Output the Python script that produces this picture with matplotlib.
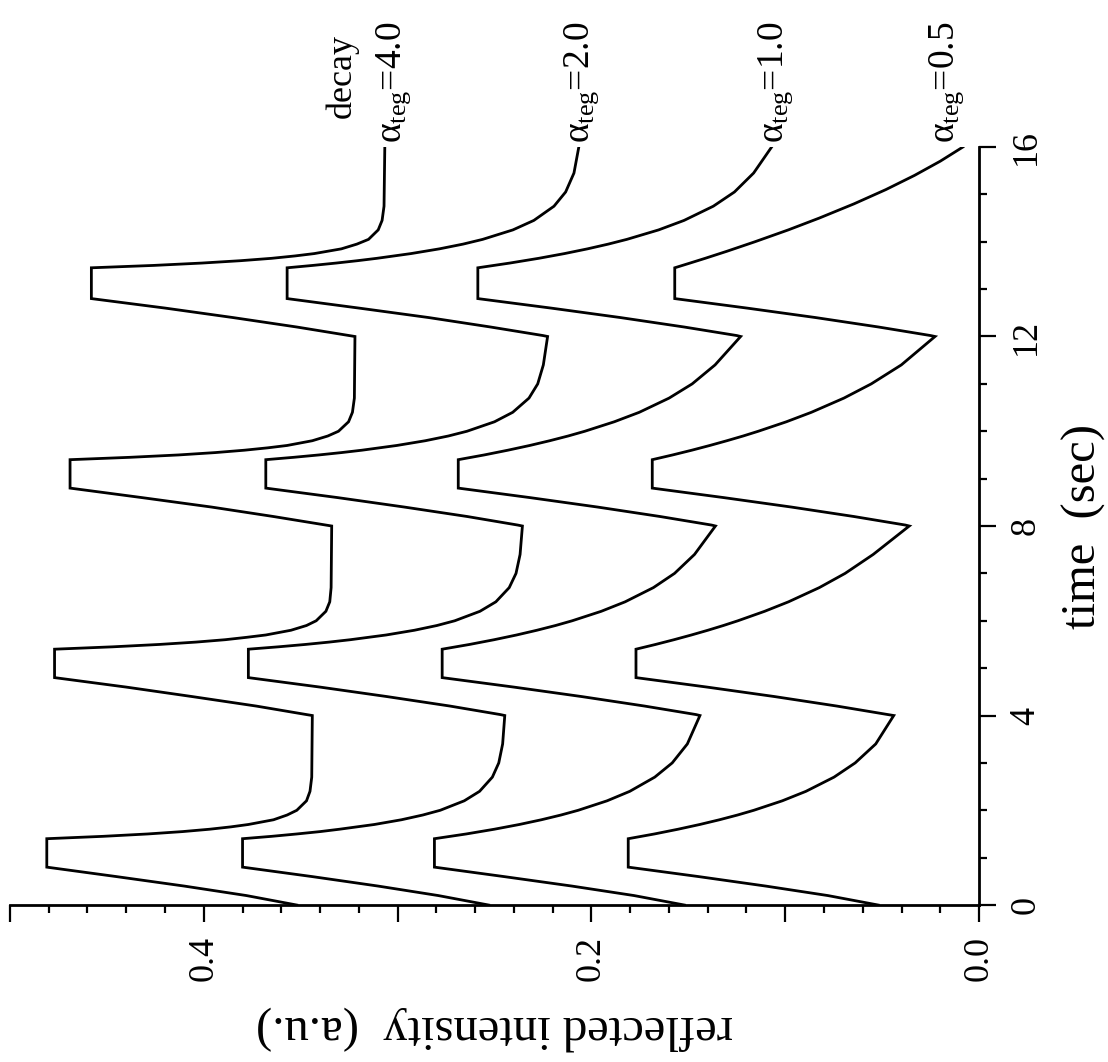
import matplotlib
matplotlib.use('Agg')
import matplotlib.pyplot as plt
from matplotlib.ticker import MultipleLocator

plt.rcParams['font.family'] = 'Liberation Serif'
plt.rcParams['mathtext.fontset'] = 'custom'
plt.rcParams['mathtext.rm'] = 'Liberation Serif'
plt.rcParams['mathtext.it'] = 'Liberation Serif:italic'

# time (sec) and reflected intensity (a.u.)
t_a40 = [0.00, 0.20, 0.40, 0.60, 0.80, 1.40, 1.45, 1.50, 1.55, 1.60, 1.65, 1.70, 1.80, 1.90, 2.00, 2.20, 2.40, 2.70, 4.00,
         4.02, 4.20, 4.40, 4.60, 4.80, 5.40, 5.45, 5.50, 5.55, 5.60, 5.65, 5.70, 5.80, 5.90, 6.00, 6.20, 6.40, 6.70, 8.00,
         8.02, 8.20, 8.40, 8.60, 8.80, 9.40, 9.45, 9.50, 9.55, 9.60, 9.65, 9.70, 9.80, 9.90, 10.00, 10.20, 10.40, 10.70, 12.00,
         12.02, 12.20, 12.40, 12.60, 12.80, 13.45, 13.50, 13.55, 13.60, 13.65, 13.70, 13.75, 13.85, 13.95, 14.05, 14.25, 14.45, 14.75, 16.00]
i_a40 = [0.352, 0.378, 0.410, 0.445, 0.481, 0.481, 0.452, 0.429, 0.411, 0.397, 0.386, 0.377, 0.364, 0.357, 0.352, 0.347, 0.3452, 0.3443, 0.344,
         0.347, 0.373, 0.406, 0.440, 0.477, 0.477, 0.447, 0.423, 0.404, 0.389, 0.378, 0.368, 0.355, 0.347, 0.342, 0.337, 0.335, 0.3343, 0.334,
         0.337, 0.364, 0.396, 0.432, 0.469, 0.469, 0.438, 0.413, 0.394, 0.379, 0.367, 0.357, 0.344, 0.336, 0.3305, 0.3253, 0.3233, 0.3223, 0.322,
         0.325, 0.352, 0.385, 0.420, 0.458, 0.458, 0.426, 0.401, 0.381, 0.365, 0.353, 0.343, 0.329, 0.321, 0.315, 0.310, 0.308, 0.307, 0.3066]

t_a20 = [0.00, 0.20, 0.40, 0.60, 0.80, 1.40, 1.45, 1.50, 1.55, 1.60, 1.70, 1.80, 1.90, 2.00, 2.20, 2.40, 2.70, 3.00, 3.40, 4.00,
         4.02, 4.20, 4.40, 4.60, 4.80, 5.40, 5.45, 5.50, 5.55, 5.60, 5.70, 5.80, 5.90, 6.00, 6.20, 6.40, 6.70, 7.00, 7.40, 8.00,
         8.02, 8.20, 8.40, 8.60, 8.80, 9.40, 9.45, 9.50, 9.55, 9.60, 9.70, 9.80, 9.90, 10.00, 10.20, 10.40, 10.70, 11.00, 11.40, 12.00,
         12.02, 12.20, 12.40, 12.60, 12.80, 13.45, 13.50, 13.55, 13.60, 13.65, 13.75, 13.85, 13.95, 14.05, 14.25, 14.45, 14.75, 15.05, 15.45, 16.00]
i_a20 = [0.253, 0.279, 0.310, 0.344, 0.380, 0.380, 0.365, 0.352, 0.340, 0.330, 0.312, 0.298, 0.287, 0.278, 0.2656, 0.2577, 0.2511, 0.2478, 0.2458, 0.2447,
         0.247, 0.273, 0.3055, 0.340, 0.377, 0.377, 0.3615, 0.3476, 0.3353, 0.3244, 0.3059, 0.2913, 0.2797, 0.2705, 0.2575, 0.2493, 0.2424, 0.2389, 0.2368, 0.2356,
         0.238, 0.264, 0.2965, 0.331, 0.368, 0.368, 0.3536, 0.3406, 0.3289, 0.3184, 0.3004, 0.2857, 0.2738, 0.2642, 0.2500, 0.2406, 0.2322, 0.2277, 0.2248, 0.2226,
         0.225, 0.252, 0.284, 0.320, 0.357, 0.357, 0.3438, 0.3317, 0.3207, 0.3107, 0.2931, 0.2784, 0.2662, 0.2561, 0.2405, 0.2297, 0.2193, 0.2133, 0.2090, 0.2065]

t_a10 = [0.00, 0.20, 0.40, 0.60, 0.80, 1.40, 1.50, 1.60, 1.70, 1.80, 1.90, 2.00, 2.20, 2.40, 2.70, 3.00, 3.40, 4.00,
         4.02, 4.20, 4.40, 4.60, 4.80, 5.40, 5.50, 5.60, 5.70, 5.80, 5.90, 6.00, 6.20, 6.40, 6.70, 7.00, 7.40, 8.00,
         8.02, 8.20, 8.40, 8.60, 8.80, 9.40, 9.50, 9.60, 9.70, 9.80, 9.90, 10.00, 10.20, 10.40, 10.70, 11.00, 11.40, 12.00,
         12.02, 12.20, 12.40, 12.60, 12.80, 13.45, 13.55, 13.65, 13.75, 13.85, 13.95, 14.05, 14.25, 14.45, 14.75, 15.05, 15.45, 16.00]
i_a10 = [0.152, 0.178, 0.210, 0.245, 0.281, 0.281, 0.2646, 0.2501, 0.2372, 0.2258, 0.2157, 0.2068, 0.1919, 0.1802, 0.1673, 0.1583, 0.1505, 0.1440,
         0.146, 0.1726, 0.205, 0.240, 0.277, 0.277, 0.2629, 0.2502, 0.2386, 0.2281, 0.2185, 0.2099, 0.1949, 0.1826, 0.1680, 0.1571, 0.1468, 0.136,
         0.138, 0.1645, 0.1968, 0.2318, 0.2687, 0.2687, 0.2553, 0.2431, 0.2318, 0.2215, 0.2120, 0.2034, 0.1882, 0.1753, 0.1599, 0.1480, 0.1362, 0.123,
         0.125, 0.1521, 0.1851, 0.2209, 0.2586, 0.2586, 0.2421, 0.2272, 0.2139, 0.2020, 0.1913, 0.1817, 0.1653, 0.1522, 0.1371, 0.1262, 0.1163, 0.107]

t_a05 = [0.00, 0.20, 0.40, 0.60, 0.80, 1.40, 1.50, 1.60, 1.70, 1.80, 1.90, 2.00, 2.20, 2.40, 2.70, 3.00, 3.40, 4.00,
         4.02, 4.20, 4.40, 4.60, 4.80, 5.40, 5.50, 5.60, 5.70, 5.80, 5.90, 6.00, 6.20, 6.40, 6.70, 7.00, 7.40, 8.00,
         8.02, 8.20, 8.40, 8.60, 8.80, 9.40, 9.50, 9.60, 9.70, 9.80, 9.90, 10.00, 10.20, 10.40, 10.70, 11.00, 11.40, 12.00,
         12.02, 12.20, 12.40, 12.60, 12.80, 13.45, 13.55, 13.65, 13.80, 14.00, 14.25, 14.50, 14.80, 15.10, 15.40, 15.70, 16.00]
i_a05 = [0.052, 0.078, 0.110, 0.1446, 0.181, 0.181, 0.1675, 0.1553, 0.1441, 0.1339, 0.1246, 0.1162, 0.1015, 0.0893, 0.0748, 0.0639, 0.0533, 0.0440,
         0.047, 0.0734, 0.1055, 0.1403, 0.177, 0.177, 0.1669, 0.1574, 0.1484, 0.1399, 0.1319, 0.1244, 0.1106, 0.0983, 0.0824, 0.0691, 0.0546, 0.036,
         0.038, 0.0645, 0.0968, 0.1318, 0.1686, 0.1686, 0.1581, 0.1482, 0.1389, 0.1301, 0.1217, 0.1139, 0.0994, 0.0865, 0.0697, 0.0556, 0.0401, 0.0227,
         0.025, 0.0518, 0.0844, 0.1198, 0.157, 0.157, 0.1491, 0.1413, 0.130, 0.1156, 0.0984, 0.0824, 0.0645, 0.0481, 0.0333, 0.020, 0.0083]

curve_labels = [r'$\mathrm{\alpha_{teg}}$=4.0', r'$\mathrm{\alpha_{teg}}$=2.0',
                r'$\mathrm{\alpha_{teg}}$=1.0', r'$\mathrm{\alpha_{teg}}$=0.5']
label_at = [0.302, 0.205, 0.105, 0.0165]

fig = plt.figure(figsize=(11.08, 10.62), dpi=100)
# the figure is drawn turned on its side: time runs up, intensity runs to the left
ax = fig.add_axes([0.009, 0.1478, 0.8746, 0.7138])

for t, inten in [(t_a40, i_a40), (t_a20, i_a20), (t_a10, i_a10), (t_a05, i_a05)]:
    ax.plot(inten, t, color='black', lw=2.0, solid_joinstyle='miter')

ax.set_xlim(0.5, 0.0)
ax.set_ylim(0, 16)
ax.spines['left'].set_visible(False)
ax.spines['top'].set_visible(False)
ax.spines['bottom'].set_linewidth(2.0)
ax.spines['right'].set_linewidth(2.0)
ax.yaxis.tick_right()
ax.yaxis.set_label_position('right')

ax.set_xticks([0.0, 0.1, 0.2, 0.3, 0.4, 0.5], ['0.0', '', '0.2', '', '0.4', ''])
ax.xaxis.set_minor_locator(MultipleLocator(0.02))
ax.set_yticks([0, 4, 8, 12, 16])
ax.yaxis.set_minor_locator(MultipleLocator(1))

ax.tick_params(which='both', direction='out', width=1.6)
ax.tick_params(which='major', length=12)
ax.tick_params(which='minor', length=6)
ax.tick_params(axis='x', labelsize=26, labelrotation=90, pad=10)
ax.tick_params(axis='y', labelsize=26, labelrotation=90, pad=10)
for lab in ax.get_yticklabels():
    lab.set_va('center')

ax.set_xlabel('reflected intensity  (a.u.)', fontsize=35, rotation=180, labelpad=18)
ax.set_ylabel('time  (sec)', fontsize=35, labelpad=14)

for lab, pos in zip(curve_labels, label_at):
    ax.text(pos, 16.08, lab, fontsize=27, rotation=90, rotation_mode='anchor',
            ha='left', va='center', clip_on=False)
ax.text(0.3287, 17.5, 'decay', fontsize=26, rotation=90, rotation_mode='anchor',
        ha='center', va='center', clip_on=False)

fig.savefig('out.png', dpi=100)
